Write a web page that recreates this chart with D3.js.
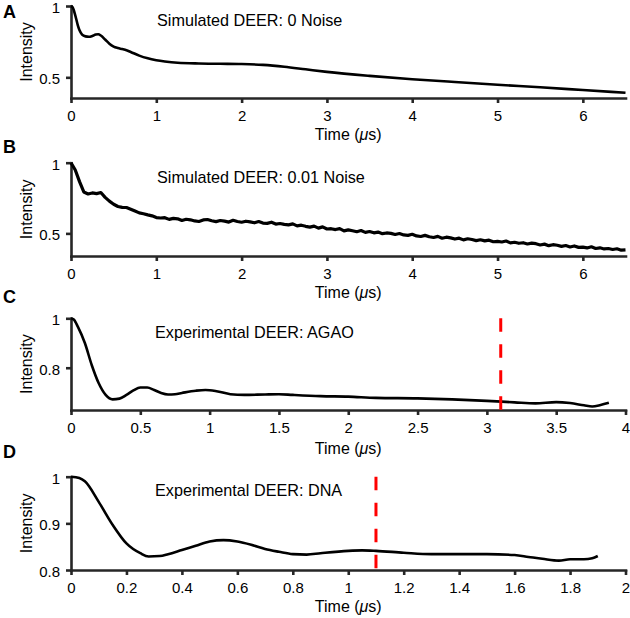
<!DOCTYPE html>
<html>
<head>
<meta charset="utf-8">
<script src="https://cdn.jsdelivr.net/npm/d3@7"></script>
<style>
  html, body { margin: 0; padding: 0; background: #fff; }
  svg { display: block; }
  text { font-family: "Liberation Sans", Arial, Helvetica, sans-serif; fill: #000; }
</style>
</head>
<body>
<svg id="chart" width="630" height="618"></svg>
<script>
// ---------------- DATA ----------------
const panelLetters = ["A", "B", "C", "D"];
const panelTitles = [
  "Simulated DEER: 0 Noise",
  "Simulated DEER: 0.01 Noise",
  "Experimental DEER: AGAO",
  "Experimental DEER: DNA"
];

// Panel A: simulated, no noise  [time (us), intensity]
const simClean = [
  [0,1.0],[0.02,0.99],[0.05,0.935],[0.08,0.865],[0.1,0.83],[0.13,0.80],[0.17,0.787],
  [0.21,0.784],[0.25,0.79],[0.29,0.80],[0.32,0.802],[0.35,0.793],[0.4,0.765],[0.45,0.735],
  [0.5,0.715],[0.55,0.705],[0.6,0.698],[0.65,0.69],[0.7,0.678],[0.8,0.652],[0.9,0.633],
  [1.0,0.62],[1.1,0.611],[1.25,0.602],[1.5,0.597],[1.75,0.595],[2.0,0.593],[2.25,0.587],
  [2.5,0.574],[2.75,0.556],[3.0,0.538],[3.5,0.51],[4.0,0.487],[4.5,0.467],[5.0,0.448],
  [5.5,0.43],[6.0,0.411],[6.5,0.392]
];

// Panel B: simulated, 0.01 noise (sampled every 0.05 us)
const noisyTimes = d3.range(0, 131).map(i => +(i * 0.05).toFixed(2));
const noisyValues = [
  1.000,0.948,0.866,0.793,0.779,0.786,0.781,0.789,0.755,0.728,
  0.706,0.690,0.684,0.683,0.671,0.658,0.645,0.639,0.631,0.624,
  0.612,0.609,0.611,0.599,0.606,0.603,0.591,0.600,0.596,0.588,
  0.584,0.595,0.598,0.589,0.583,0.591,0.587,0.580,0.593,0.584,
  0.579,0.586,0.581,0.575,0.584,0.573,0.571,0.579,0.566,0.570,
  0.564,0.560,0.567,0.553,0.558,0.550,0.544,0.551,0.537,0.546,
  0.531,0.533,0.527,0.534,0.518,0.525,0.519,0.512,0.520,0.507,
  0.513,0.504,0.509,0.498,0.503,0.500,0.492,0.499,0.489,0.486,
  0.494,0.482,0.478,0.486,0.476,0.471,0.479,0.466,0.473,0.468,
  0.460,0.466,0.454,0.462,0.457,0.449,0.455,0.447,0.452,0.441,
  0.444,0.439,0.446,0.433,0.437,0.430,0.434,0.425,0.431,0.427,
  0.418,0.424,0.413,0.420,0.416,0.408,0.414,0.404,0.411,0.401,
  0.403,0.397,0.405,0.393,0.398,0.390,0.393,0.386,0.391,0.381,
  0.383
];

// Panel C: experimental AGAO
const expAGAO = [
  [0,1.0],[0.02,0.995],[0.05,0.965],[0.1,0.90],[0.15,0.81],[0.2,0.737],[0.25,0.69],
  [0.3,0.672],[0.35,0.675],[0.4,0.69],[0.45,0.708],[0.5,0.72],[0.55,0.72],[0.6,0.71],
  [0.65,0.698],[0.7,0.692],[0.75,0.693],[0.8,0.698],[0.9,0.707],[0.97,0.71],[1.05,0.705],
  [1.15,0.693],[1.25,0.69],[1.4,0.692],[1.5,0.693],[1.6,0.69],[1.8,0.685],[2.0,0.683],
  [2.2,0.678],[2.5,0.676],[2.75,0.672],[3.0,0.666],[3.2,0.66],[3.35,0.656],[3.5,0.661],
  [3.6,0.657],[3.7,0.648],[3.76,0.643],[3.82,0.649],[3.88,0.658]
];

// Panel D: experimental DNA
const expDNA = [
  [0,1.0],[0.03,0.997],[0.05,0.99],[0.1,0.946],[0.15,0.897],[0.2,0.857],[0.25,0.836],
  [0.28,0.829],[0.32,0.83],[0.35,0.834],[0.4,0.843],[0.45,0.852],[0.5,0.861],[0.55,0.864],
  [0.6,0.861],[0.65,0.854],[0.7,0.845],[0.75,0.839],[0.8,0.834],[0.85,0.833],[0.9,0.836],
  [1.0,0.841],[1.05,0.842],[1.1,0.841],[1.2,0.837],[1.3,0.834],[1.4,0.834],[1.5,0.834],
  [1.6,0.832],[1.65,0.828],[1.7,0.824],[1.76,0.82],[1.8,0.823],[1.85,0.823],[1.88,0.825],
  [1.9,0.83]
];

// axis domains and ticks
const xDomains = [[0, 6.5], [0, 6.5], [0, 4], [0, 2]];
const yDomains = [[0.355, 1], [0.34, 1], [0.629, 1], [0.8, 1]];
const xTicks = [
  [0,1,2,3,4,5,6],
  [0,1,2,3,4,5,6],
  [0,0.5,1,1.5,2,2.5,3,3.5,4],
  [0,0.2,0.4,0.6,0.8,1,1.2,1.4,1.6,1.8,2]
];
const yTicks = [[0.5, 1], [0.5, 1], [0.8, 1], [0.8, 0.9, 1]];
const cutoffTimes = [null, null, 3.1, 1.1];

const seriesData = [
  simClean,
  noisyTimes.map((t, i) => [t, noisyValues[i]]),
  expAGAO,
  expDNA
];

// ---------------- LAYOUT ----------------
const layout = [
  { top: 6,     bottom: 98,  letterY: 18,  titleY: 26,  labelY: 42 },
  { top: 162.7, bottom: 256, letterY: 153, titleY: 183, labelY: 42 },
  { top: 318.3, bottom: 410, letterY: 303, titleY: 338, labelY: 44 },
  { top: 476.7, bottom: 570, letterY: 458, titleY: 496, labelY: 42 }
];
const left = 71, right = 625.5;
const titleX = [157, 157, 155, 155];
const axisColor = "#262626";

const svg = d3.select("#chart");

const fmt = v => String(+v.toFixed(2));

layout.forEach((L, p) => {
  const x = d3.scaleLinear().domain(xDomains[p]).range([left, right]);
  const y = d3.scaleLinear().domain(yDomains[p]).range([L.bottom, L.top]);
  const g = svg.append("g");

  // x axis
  const xa = g.append("g")
    .attr("transform", `translate(0,${L.bottom})`)
    .call(d3.axisBottom(x).tickValues(xTicks[p]).tickFormat(fmt).tickSizeInner(5).tickSizeOuter(0).tickPadding(7));
  // y axis
  const ya = g.append("g")
    .attr("transform", `translate(${left},0)`)
    .call(d3.axisLeft(y).tickValues(yTicks[p]).tickFormat(fmt).tickSizeInner(5).tickSizeOuter(0).tickPadding(6));

  [xa, ya].forEach(a => {
    a.select(".domain").attr("stroke", axisColor).attr("stroke-width", 2.6).attr("stroke-linecap", "square");
    a.selectAll(".tick line").attr("stroke", axisColor).attr("stroke-width", 2.6);
    a.selectAll(".tick text").attr("fill", "#262626").style("font-size", "15px")
      .style("font-family", '"Liberation Sans", Arial, sans-serif');
  });
  ya.selectAll(".tick text").attr("dy", "0.42em");

  // data line
  const line = d3.line()
    .x(d => x(d[0])).y(d => y(d[1]))
    .curve(p === 1 ? d3.curveLinear : d3.curveMonotoneX);
  g.append("path")
    .datum(seriesData[p])
    .attr("fill", "none")
    .attr("stroke", "#000")
    .attr("stroke-width", p === 1 ? 3.2 : 2.6)
    .attr("stroke-linejoin", "round")
    .attr("d", line);

  // red cutoff
  if (cutoffTimes[p] !== null) {
    g.append("line")
      .attr("x1", x(cutoffTimes[p])).attr("x2", x(cutoffTimes[p]))
      .attr("y1", y(yDomains[p][1])).attr("y2", L.bottom + 1)
      .attr("stroke", "#ff0000").attr("stroke-width", 3)
      .attr("stroke-dasharray", "13.5,12.5");
  }

  // title
  g.append("text")
    .attr("x", titleX[p]).attr("y", L.titleY)
    .style("font-size", "16.2px")
    .text(panelTitles[p]);

  // axis labels
  const xl = g.append("text")
    .attr("x", (left + right) / 2).attr("y", L.bottom + L.labelY)
    .attr("text-anchor", "middle")
    .style("font-size", "16px");
  xl.append("tspan").text("Time (");
  xl.append("tspan").style("font-style", "italic").text("\u03bc");
  xl.append("tspan").text("s)");

  g.append("text")
    .attr("transform", `translate(31.5,${(L.top + L.bottom) / 2}) rotate(-90)`)
    .attr("text-anchor", "middle")
    .style("font-size", "16px")
    .text("Intensity");

  // panel letter
  g.append("text")
    .attr("x", 3).attr("y", L.letterY)
    .style("font-size", "18px").style("font-weight", "bold")
    .text(panelLetters[p]);
});
</script>
</body>
</html>
